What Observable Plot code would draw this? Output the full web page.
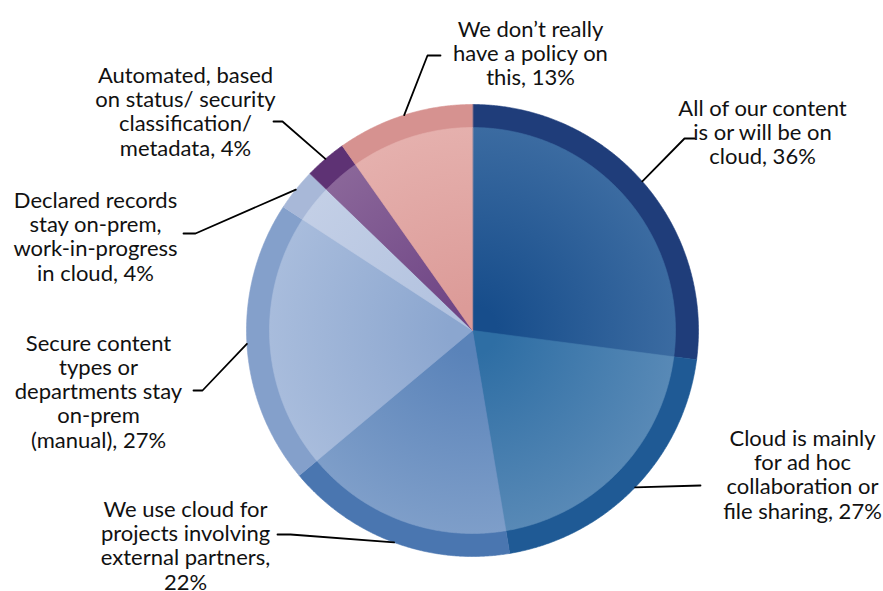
<!DOCTYPE html>
<html><head><meta charset="utf-8">
<script src="https://cdn.jsdelivr.net/npm/d3@7"></script>
<script src="https://cdn.jsdelivr.net/npm/@observablehq/plot@0.6"></script>
<style>body{margin:0;background:#fff} #chart{width:883px;height:591px}</style>
</head><body><div id="chart"></div>
<script>
// ---- data ----
const categories = [
  "All of our content\nis or will be on\ncloud, {v}%",
  "Cloud is mainly\nfor ad hoc\ncollaboration or\nfile sharing, {v}%",
  "We use cloud for\nprojects involving\nexternal partners,\n{v}%",
  "Secure content\ntypes or\ndepartments stay\non-prem\n(manual), {v}%",
  "Declared records\nstay on-prem,\nwork-in-progress\nin cloud, {v}%",
  "Automated, based\non status/ security\nclassification/\nmetadata, {v}%",
  "We don’t really\nhave a policy on\nthis, {v}%"
];
const values = [36, 27, 22, 27, 4, 4, 13];

// ---- styles / layout ----
const W = 883, H = 591, CX = 472, CY = 330, R = 226, RI = 203;
const ringColors  = ["#1f3d7a", "#1f5a95", "#4a76b0", "#84a0cb", "#a8b8d8", "#5e3274", "#d69290"];
const innerCenter = ["#174d8b", "#2e6ea4", "#5a83b9", "#8ba6cf", "#b2c2df", "#6f4585", "#dc9b98"];
const innerEdge   = ["#3b6ba1", "#5889b6", "#7e9ec9", "#a8bcdc", "#c3cfe6", "#8a6699", "#e5b0ad"];
const labelPos = [[762, 132], [802, 474], [185, 545], [98, 391], [95, 236], [185, 111], [530, 53]];
const leaderBends = [
  [[684, 138], [694, 138]],
  [[700, 485]],
  [[290, 534], [277, 534]],
  [[202, 390], [193, 390]],
  [[195, 233], [183, 233]],
  [[282, 121], [273, 121]],
  [[427, 55], [440, 55]]
];

const arcs = d3.pie().sort(null).startAngle(0).endAngle(2 * Math.PI)(values);
const pt = (a, r) => ({x: CX + r * Math.sin(a), y: CY - r * Math.cos(a)});
function sector(a0, a1, r) {
  const n = Math.max(2, Math.ceil((a1 - a0) / 0.006));
  const pts = [{x: CX, y: CY}];
  for (let j = 0; j <= n; j++) pts.push(pt(a0 + (a1 - a0) * j / n, r));
  return pts;
}

const defsMark = () => {
  const defs = d3.create("svg:defs");
  arcs.forEach((a, i) => {
    const g = defs.append("radialGradient").attr("id", "g" + i)
      .attr("gradientUnits", "userSpaceOnUse")
      .attr("cx", CX).attr("cy", CY).attr("r", RI);
    g.append("stop").attr("offset", 0.12).attr("stop-color", innerCenter[i]);
    g.append("stop").attr("offset", 1).attr("stop-color", innerEdge[i]);
  });
  return defs.node();
};

const marks = [defsMark];
arcs.forEach((a, i) => {
  marks.push(Plot.line(sector(a.startAngle, a.endAngle, R), {
    x: "x", y: "y", curve: "linear-closed",
    fill: ringColors[i], stroke: ringColors[i], strokeWidth: 0.6
  }));
});
arcs.forEach((a, i) => {
  marks.push(Plot.line(sector(a.startAngle, a.endAngle, RI), {
    x: "x", y: "y", curve: "linear-closed",
    fill: `url(#g${i})`, stroke: `url(#g${i})`, strokeWidth: 0.6
  }));
});

const leaders = arcs.flatMap((a, i) => {
  const start = pt((a.startAngle + a.endAngle) / 2, R);
  return [start, ...leaderBends[i].map(([x, y]) => ({x, y}))].map(p => ({...p, k: i}));
});
marks.push(Plot.line(leaders, {x: "x", y: "y", z: "k", stroke: "#000", strokeWidth: 1.8}));

marks.push(Plot.text(d3.range(categories.length), {
  x: i => labelPos[i][0], y: i => labelPos[i][1],
  text: i => categories[i].replace("{v}", values[i]),
  fontSize: 22, lineHeight: 1.1, fill: "#111",
  textAnchor: "middle", lineAnchor: "middle"
}));

const chart = Plot.plot({
  width: W, height: H, margin: 0,
  x: {domain: [0, W], range: [0, W], axis: null},
  y: {domain: [0, H], range: [0, H], axis: null},
  style: {fontFamily: "Lato, sans-serif", background: "#fff"},
  marks
});
document.getElementById("chart").appendChild(chart);
</script>
</body></html>
